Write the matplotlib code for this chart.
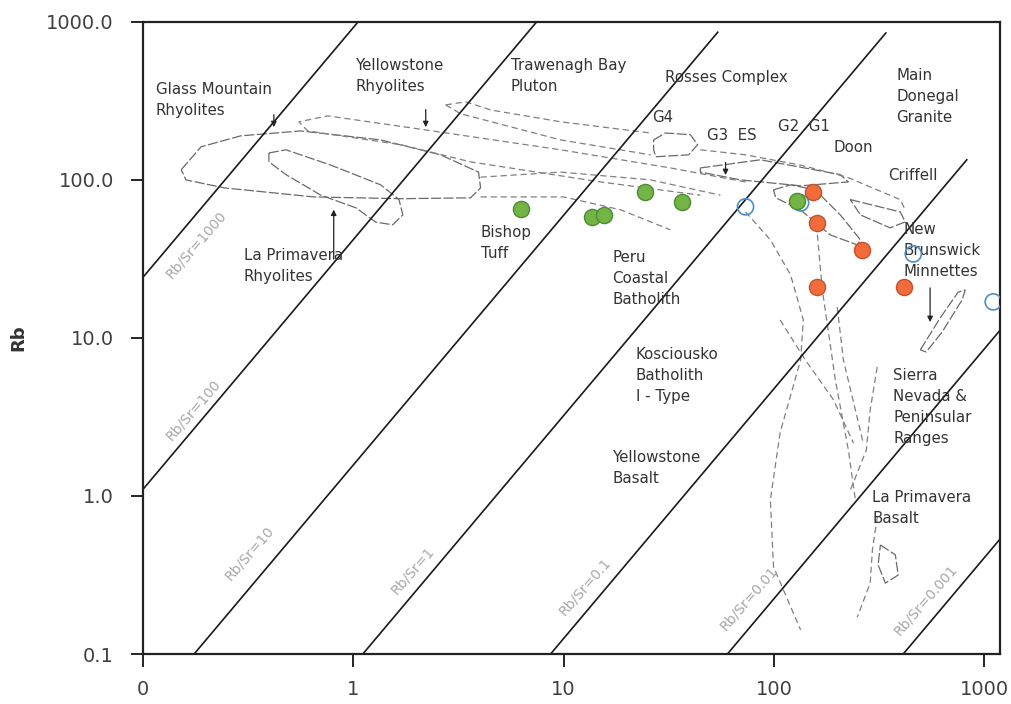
import numpy as np
import matplotlib
matplotlib.use("Agg")
import matplotlib.pyplot as plt

# ---------------- data ----------------
# sample groups (Sr, Rb in ppm)
green_sr = [6.25, 13.7, 15.5, 24.5, 36.7, 129]
green_rb = [65.5, 58.3, 60.0, 84.0, 72.6, 73.6]
orange_sr = [154, 161, 263, 161, 417]
orange_rb = [84.0, 53.5, 36.1, 21.0, 21.0]
blue_sr = [73.3, 134, 460, 1104]
blue_rb = [67.5, 71.5, 34.0, 16.9]

# Rb/Sr reference lines: Sr where each meets Rb = 0.1, and the Rb where it stops
ratio_labels = ["Rb/Sr=1000", "Rb/Sr=100", "Rb/Sr=10", "Rb/Sr=1",
                "Rb/Sr=0.1", "Rb/Sr=0.01", "Rb/Sr=0.001"]
ratio_sr_floor = [0.0031, 0.0219, 0.175, 1.11, 8.67, 60.1, 412]
ratio_rb_stop = [1000, 1000, 860, 850, 134, 1000, 1000]
ratio_label_pos = [(0.179, 38.8), (0.173, 3.50), (0.319, 0.436), (1.92, 0.340),
                   (12.6, 0.269), (75.7, 0.225), (525, 0.220)]

# field outlines (Sr, Rb)
fields_closed = {
    "Glass Mountain": [(0.152, 116), (0.189, 162), (0.292, 190), (0.563, 204), (1.35, 179),
                       (2.60, 144), (3.94, 112), (4.03, 89), (3.61, 77), (1.68, 76),
                       (0.649, 78), (0.243, 89), (0.160, 100), (0.152, 116)],
    "La Primavera Rhyolites": [(0.397, 148), (0.478, 155), (0.782, 124), (1.35, 93), (1.65, 75),
                               (1.72, 60), (1.54, 52), (1.28, 54), (1.03, 66.5), (0.701, 80),
                               (0.478, 108), (0.397, 130), (0.397, 148)],
    "G4": [(26.8, 179), (30.5, 198), (40.1, 193), (43.4, 167), (39.3, 144), (27.4, 140),
           (26.8, 155), (26.8, 179)],
    "Rosses": [(44.7, 119), (86.3, 134), (207, 108), (226, 97), (134, 91.7), (69.3, 100),
               (44.7, 112), (44.7, 119)],
    "Central": [(99.6, 86.5), (120, 93), (157, 86.5), (207, 60), (258, 41.7), (249, 38.8),
                (185, 44.9), (134, 64.6), (102, 77), (99.6, 86.5)],
    "Criffell": [(231, 75), (399, 62.7), (421, 54.2), (357, 49.7), (258, 60), (231, 75)],
    "New Brunswick": [(497, 8.40), (618, 13.4), (752, 19.5), (812, 20.1), (785, 17.4),
                      (631, 10.9), (530, 8.15), (497, 8.40)],
    "La Primavera Basalt": [(321, 0.490), (378, 0.424), (390, 0.316), (339, 0.281),
                            (313, 0.366), (321, 0.490)],
}
fields_open = {
    "Yellowstone": [(73.3, 97), (32.2, 119), (9.68, 155), (2.21, 207), (0.757, 254),
                    (0.551, 233), (0.608, 204), (1.68, 167), (3.61, 130), (15.0, 97), (44.7, 80)],
    "Trawenagh top": [(2.75, 298), (3.42, 312), (4.50, 277), (9.68, 233), (25.9, 198)],
    "Trawenagh low": [(2.75, 298), (3.24, 262), (9.68, 179), (25.9, 144)],
    "Bishop upper": [(4.03, 104), (9.68, 112), (25.9, 100), (55.7, 80)],
    "Bishop lower": [(4.03, 78), (10.0, 78), (18.7, 64.6), (32.2, 48.3)],
    "Rosses upper": [(44.7, 155), (73.3, 144), (134, 124), (223, 104), (399, 75), (421, 64.6)],
    "Peru": [(73.3, 62.7), (96.2, 41.7), (120, 25.1), (138, 13.0), (134, 7.26), (107, 2.51),
             (96.2, 0.944), (99.6, 0.356), (134, 0.142)],
    "Kosciousko": [(161, 44.9), (170, 20.1), (196, 5.42), (226, 1.95), (244, 0.944)],
    "Sierra a": [(107, 13.0), (141, 7.26), (192, 4.06), (239, 2.16)],
    "Sierra b": [(200, 15.7), (214, 7.26), (244, 3.50), (266, 2.16)],
    "Sierra c": [(310, 6.55), (287, 3.50), (275, 1.95), (231, 1.09)],
    "Basalt": [(310, 0.736), (294, 0.455), (287, 0.281), (249, 0.171)],
}

# field names: (text, Sr, Rb) at upper-left corner of the text block
field_labels = [
    ("Glass Mountain\nRhyolites", 0.115, 417),
    ("Yellowstone\nRhyolites", 1.03, 592),
    ("Trawenagh Bay\nPluton", 5.60, 592),
    ("Rosses Complex", 30.5, 496),
    ("Main\nDonegal\nGranite", 382, 512),
    ("G4", 26.5, 277),
    ("G3  ES", 48.3, 213),
    ("G2  G1", 105, 243),
    ("Doon", 192, 179),
    ("Criffell", 350, 119),
    ("New\nBrunswick\nMinnettes", 412, 54.2),
    ("Bishop\nTuff", 4.04, 51.9),
    ("La Primavera\nRhyolites", 0.302, 37.2),
    ("Peru\nCoastal\nBatholith", 17.1, 36.1),
    ("Kosciousko\nBatholith\nI - Type", 22.0, 8.77),
    ("Yellowstone\nBasalt", 17.1, 1.95),
    ("Sierra\nNevada &\nPeninsular\nRanges", 370, 6.46),
    ("La Primavera\nBasalt", 294, 1.09),
]

# pointer arrows: (Sr, Rb tail) -> (Sr, Rb head)
pointers = [
    ((0.419, 269), (0.419, 207)),
    ((2.21, 290), (2.21, 207)),
    ((0.807, 30.3), (0.807, 67.5)),
    ((58.9, 134), (58.9, 103)),
    ((553, 21.6), (553, 12.1)),
]

x_ticks = [0.1, 1, 10, 100, 1000]
x_tick_labels = ["0", "1", "10", "100", "1000"]
y_ticks = [0.1, 1, 10, 100, 1000]
y_tick_labels = ["0.1", "1.0", "10.0", "100.0", "1000.0"]

# ---------------- figure ----------------
fig = plt.figure(figsize=(10.12, 7.04), dpi=100)
ax = fig.add_axes([0.1413, 0.071, 0.847, 0.898])
ax.set_xscale("log")
ax.set_yscale("log")
ax.set_xlim(0.1, 1191)
ax.set_ylim(0.1, 1000)

slope = 1.58
for lab, sr0, rbstop, pos in zip(ratio_labels, ratio_sr_floor, ratio_rb_stop, ratio_label_pos):
    rb = np.array([0.1, rbstop])
    sr = sr0 * (rb / 0.1) ** (1.0 / slope)
    ax.plot(sr, rb, color="#1a1a1a", lw=1.2, zorder=2)
    ax.text(pos[0], pos[1], lab, rotation=49, ha="center", va="center",
            fontsize=10, color="#a8a8a8", zorder=2)

for pts in fields_closed.values():
    s, r = zip(*pts)
    ax.plot(s, r, color="#6a6a6a", lw=0.9, ls=(0, (8, 2)), zorder=1)
for pts in fields_open.values():
    s, r = zip(*pts)
    ax.plot(s, r, color="#808080", lw=0.9, ls=(0, (5, 3)), zorder=1)

for txt, sx, ry in field_labels:
    ax.text(sx, ry, txt, ha="left", va="top", fontsize=10.8, color="#333333",
            linespacing=1.5, zorder=3)

for tail, head in pointers:
    ax.annotate("", xy=head, xytext=tail,
                arrowprops=dict(arrowstyle="-|>", color="#222222", lw=0.9,
                                mutation_scale=8), zorder=3)

ax.scatter(blue_sr, blue_rb, s=135, facecolors="none", edgecolors="#4a8fcc",
           linewidths=1.2, zorder=4)
ax.scatter(green_sr, green_rb, s=135, color="#72b545", edgecolors="#4f8a33",
           linewidths=1.0, zorder=5)
ax.scatter(orange_sr, orange_rb, s=135, color="#f26b3a", edgecolors="#c4512b",
           linewidths=1.0, zorder=6)

ax.set_xticks(x_ticks)
ax.set_xticklabels(x_tick_labels)
ax.set_yticks(y_ticks)
ax.set_yticklabels(y_tick_labels)
ax.minorticks_off()
ax.tick_params(axis="both", direction="out", length=9, width=1.2,
               labelsize=14, labelcolor="#404040")
ax.tick_params(axis="y", pad=12)
ax.tick_params(axis="x", pad=10)
for sp in ax.spines.values():
    sp.set_linewidth(1.6)
    sp.set_color("#222222")

ax.set_ylabel("Rb", fontsize=13, fontweight="bold", color="#333333")
ax.yaxis.set_label_coords(-0.135, 0.5)

fig.savefig("out.png", dpi=100)
